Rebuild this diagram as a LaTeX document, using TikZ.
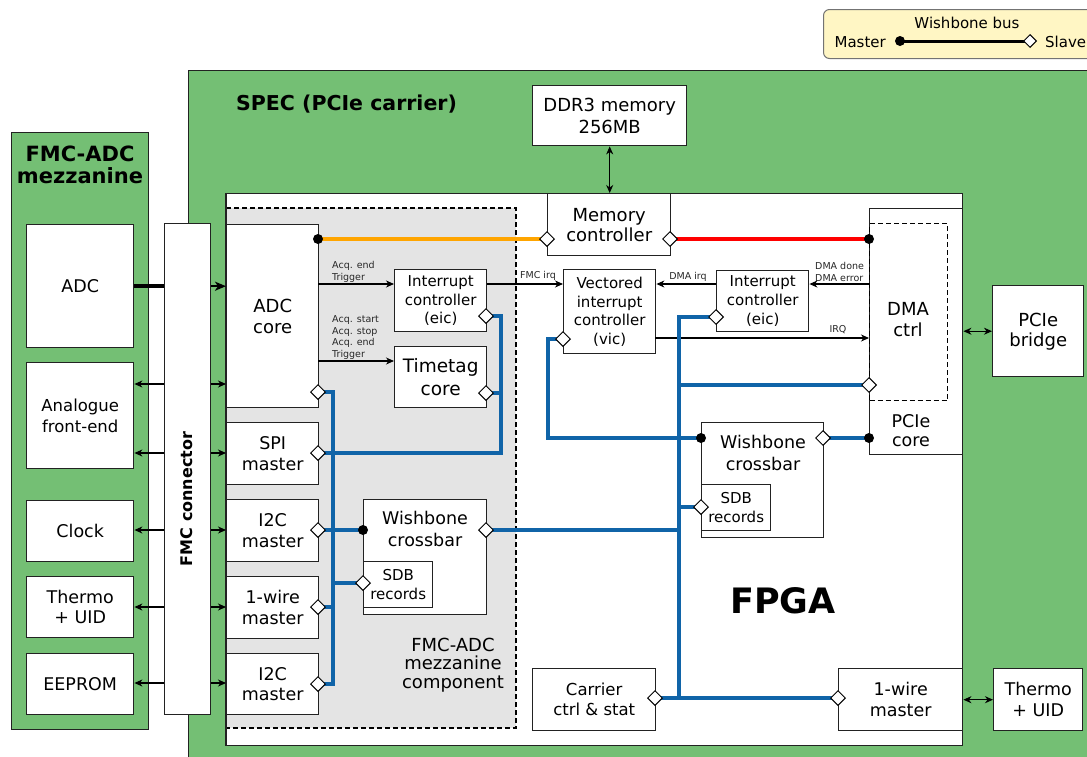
\documentclass[tikz,border=0pt]{standalone}
\usepackage{fontspec}
\setmainfont{DejaVu Sans}
\usetikzlibrary{shapes.geometric,arrows.meta,calc}

\definecolor{boardgreen}{RGB}{116,191,116}
\definecolor{busblue}{RGB}{16,100,168}
\definecolor{compgray}{RGB}{228,228,228}
\definecolor{legendyellow}{RGB}{255,246,196}
\definecolor{edgegray}{RGB}{34,34,34}
\definecolor{wborange}{RGB}{255,165,0}
\definecolor{wbred}{RGB}{255,0,0}

\newcommand\fsz[2]{\fontsize{#1}{#2}\selectfont}

\tikzset{
  board/.style={draw=edgegray, line width=1.4pt, fill=boardgreen, inner sep=0pt, anchor=north west},
  box/.style={draw=edgegray, line width=1.4pt, fill=white, inner sep=0pt, anchor=north west,
              align=center, font=\fsz{17.5}{20.5}},
  midtext/.style={font=\fsz{15}{18.7}},
  txt/.style={inner sep=0pt, align=center},
  tiny/.style={inner sep=0pt, align=left, font=\fsz{9.5}{11.8}, text=black!85},
  tip/.style={Stealth[length=8pt,width=7pt,inset=2.5pt]},
  sig/.style={line width=1.1pt, -{Stealth[length=8pt,width=7pt,inset=2.5pt]}},
  sigboth/.style={line width=1.1pt, {Stealth[length=8pt,width=7pt,inset=2.5pt]}-{Stealth[length=8pt,width=7pt,inset=2.5pt]}},
  bus/.style={line width=4.5pt, busblue},
  mport/.style={circle, fill=black, minimum size=10pt, inner sep=0pt},
  sport/.style={diamond, draw=black, line width=1pt, fill=white, minimum size=15pt, inner sep=0pt},
}

\begin{document}
\begin{tikzpicture}[x=1pt,y=-1pt]
\useasboundingbox (0,0) rectangle (1087,756);
\clip (0,0) rectangle (1087,756);

% ---------- legend ----------
\node[draw=black!55, line width=1pt, fill=legendyellow, rounded corners=6pt, anchor=north west,
      minimum width=290, minimum height=49, inner sep=0pt] (legend) at (823,9) {};
\node[txt, font=\fsz{15}{18}] (legtitle) at (967,23) {Wishbone bus};
\coordinate (legM) at (900,41);
\coordinate (legS) at (1030,41);
\draw[line width=3pt] (legM) -- (legS);
\node[mport] (legdot) at (legM) {};
\node[sport, minimum size=13pt] (legdia) at (legS) {};
\node[txt, anchor=east, font=\fsz{15}{18}] (legmaster) at (886,42) {Master};
\node[txt, anchor=west, font=\fsz{15}{18}] (legslave) at (1045,42) {Slave};

% ---------- boards ----------
\node[board, minimum width=920, minimum height=700] (spec) at (188,70) {};
\node[txt, anchor=west, font=\bfseries\fsz{20.5}{24}] (spectitle) at (236,104) {SPEC (PCIe carrier)};

\node[board, minimum width=137, minimum height=597] (mezz) at (11,132) {};
\node[txt, font=\bfseries\fsz{21}{21.5}] (mezztitle) at (80,165) {FMC-ADC\\mezzanine};

% mezzanine parts
\node[box, minimum width=107, minimum height=123] (adc) at (26,224) {ADC};
\node[box, minimum width=107, minimum height=106, font=\fsz{16.5}{21.5}] (afe) at (26,362) {Analogue\\front-end};
\node[box, minimum width=107, minimum height=61] (clk) at (26,500) {Clock};
\node[box, minimum width=107, minimum height=61] (thermoM) at (26,576) {Thermo\\+ UID};
\node[box, minimum width=107, minimum height=61] (eeprom) at (26,653) {EEPROM};

% FMC connector
\node[box, minimum width=46, minimum height=491] (conn) at (164,223) {};
\node[txt, rotate=90, font=\bfseries\fsz{16}{18}] (conntext) at (187,499) {FMC connector};

% DDR3
\node[box, minimum width=154, minimum height=60, font=\fsz{18}{22.5}] (ddr) at (532,85) {DDR3 memory\\256MB};

% ---------- FPGA ----------
\node[box, minimum width=736, minimum height=552] (fpga) at (226,193) {};
\fill[compgray] (226.7,208) rectangle (516,728);
\draw[line width=1.4pt, dash pattern=on 5pt off 3pt] (226,208) -- (516,208) -- (516,728) -- (226,728);
\draw[draw=edgegray, line width=1.4pt] (fpga.north west) -- (fpga.south west);
\node[txt, font=\bfseries\fsz{35}{40}] (fpgatext) at (783,601) {FPGA};
\node[txt, font=\fsz{18}{18.5}] (comptext) at (453,665) {FMC-ADC\\mezzanine\\component};

% FMC-ADC component blocks
\node[box, minimum width=92, minimum height=183, font=\fsz{18}{20.5}] (adccore) at (226,224) {ADC\\core};
\node[box, minimum width=92, minimum height=62] (spi) at (226,422) {SPI\\master};
\node[box, minimum width=92, minimum height=62] (i2cA) at (226,499) {I2C\\master};
\node[box, minimum width=92, minimum height=62] (owA) at (226,576) {1-wire\\master};
\node[box, minimum width=92, minimum height=61] (i2cB) at (226,653) {I2C\\master};
\node[box, minimum width=92, minimum height=62, midtext] (eicF) at (394,269) {Interrupt\\controller\\(eic)};
\node[box, minimum width=92, minimum height=61, font=\fsz{18.5}{23}] (ttag) at (394,346) {Timetag\\core};
\node[box, minimum width=123, minimum height=115] (xbarF) at (363,499) {};
\node[txt, font=\fsz{17.5}{22}] (xbarFtext) at (425,529) {Wishbone\\crossbar};
\node[box, minimum width=69, minimum height=46, font=\fsz{15}{19}] (sdbF) at (363,561) {SDB\\records};

% carrier blocks
\node[box, minimum width=123, minimum height=62, font=\fsz{18}{20}] (memctl) at (547,193) {Memory\\controller};
\node[box, minimum width=92, minimum height=84, midtext] (vic) at (563,269) {Vectored\\interrupt\\controller\\(vic)};
\node[box, minimum width=92, minimum height=61, midtext] (eicC) at (716,270) {Interrupt\\controller\\(eic)};
\node[box, minimum width=93, minimum height=246] (pcie) at (869,208) {};
\node[txt, font=\fsz{17.5}{19}] (pcietext) at (911,431) {PCIe\\core};
\node[draw=black, line width=1.2pt, dash pattern=on 5pt off 3pt, anchor=north west, inner sep=0pt,
      minimum width=78, minimum height=177] (dma) at (869,223) {};
\node[txt, font=\fsz{18}{21}] (dmatext) at (908,320) {DMA\\ctrl};
\node[box, minimum width=91, minimum height=91, font=\fsz{18}{20}] (bridge) at (992,285) {PCIe\\bridge};
\node[box, minimum width=122, minimum height=115] (xbarC) at (701,422) {};
\node[txt, font=\fsz{17.5}{22}] (xbarCtext) at (763,453) {Wishbone\\crossbar};
\node[box, minimum width=69, minimum height=46, font=\fsz{15}{19}] (sdbC) at (701,484) {SDB\\records};
\node[box, minimum width=123, minimum height=62, font=\fsz{16.5}{20}] (carrier) at (532,668) {Carrier\\ctrl \& stat};
\node[box, minimum width=124, minimum height=62] (owC) at (838,668) {1-wire\\master};
\node[box, minimum width=89, minimum height=62] (thermoC) at (993,668) {Thermo\\+ UID};

% ---------- mezzanine to carrier signals ----------
\draw[line width=4pt] (adc.east) -- (conn.west |- adc.east);
\draw[line width=2.5pt, -{Stealth[length=11pt,width=9pt,inset=3pt]}] (conn.east |- adc.east) -- (adccore.west |- adc.east);
\foreach \y in {384,453,530,607,683} {
  \draw[sig] (conn.west |- 0,\y) -- (adc.east |- 0,\y);
  \draw[sig] (conn.east |- 0,\y) -- (adccore.west |- 0,\y);
}

% ---------- interrupt and status signals ----------
\coordinate (acqA) at (318,284);
\coordinate (acqB) at (318,361);
\coordinate (irqY) at (655,338);
\draw[sig] (acqA) -- (acqA -| eicF.west);
\draw[sig] (acqB) -- (acqB -| ttag.west);
\draw[sig] (eicF.east |- acqA) -- (vic.west |- acqA);
\draw[sig] (eicC.west |- acqA) -- (vic.east |- acqA);
\draw[sig] (pcie.west |- acqA) -- (eicC.east |- acqA);
\draw[sig] (irqY) -- (irqY -| pcie.west);
\draw[sigboth] (ddr.south) -- (ddr.south |- memctl.north);
\draw[sigboth] (fpga.east |- bridge.west) -- (bridge.west);
\draw[sigboth] (owC.east) -- (thermoC.west);

\node[tiny, anchor=west] (lblA) at (332,272) {Acq. end\\Trigger};
\node[tiny, anchor=west] (lblB) at (332,337.5) {Acq. start\\Acq. stop\\Acq. end\\Trigger};
\node[tiny] (lblFMC) at (538,276) {FMC irq};
\node[tiny] (lblDMA) at (688,277) {DMA irq};
\node[tiny, anchor=west] (lblDone) at (815,272) {DMA done\\DMA error};
\node[tiny] (lblIRQ) at (838,330) {IRQ};

% ---------- Wishbone ports ----------
\coordinate (adcM) at (318,239);
\coordinate (memL) at (547,239);
\coordinate (memR) at (670,239);
\coordinate (dmaM) at (869,239);
\coordinate (adcS) at (318,392);
\coordinate (spiS) at (318,453);
\coordinate (i2cAS) at (318,530);
\coordinate (owAS) at (318,607);
\coordinate (i2cBS) at (318,684);
\coordinate (eicFS) at (486,316);
\coordinate (ttagS) at (486,393);
\coordinate (xbarFM) at (363,530);
\coordinate (sdbFS) at (363,583);
\coordinate (xbarFS) at (486,530);
\coordinate (vicS) at (563,339);
\coordinate (eicCS) at (716,317);
\coordinate (dmaS) at (869,385);
\coordinate (pcieM) at (869,438);
\coordinate (xbarCM) at (701,438);
\coordinate (xbarCS) at (823,438);
\coordinate (sdbCS) at (701,507);
\coordinate (carS) at (655,698);
\coordinate (owCS) at (838,698);
\coordinate (trunkTop) at (679,317);
\coordinate (trunkBot) at (679,698);

% DMA memory paths
\draw[line width=4pt, wborange] (adcM) -- (memL);
\draw[line width=4pt, wbred] (memR) -- (dmaM);

% mezzanine component bus
\draw[bus] (adcS) -- ++(15,0) |- (i2cBS);
\draw[bus] (spiS) -| ($(eicFS)+(15,0)$) -- (eicFS);
\draw[bus] (ttagS) -- ++(15,0);
\draw[bus] (i2cAS) -- (xbarFM);
\draw[bus] (owAS) -- ++(15,0);
\draw[bus] (sdbFS) -- ++(-30,0);

% carrier bus
\draw[bus] (eicCS) -- (trunkTop) -- (trunkBot);
\draw[bus] (xbarFS) -- (xbarFS -| trunkTop);
\draw[bus] (dmaS) -- (dmaS -| trunkTop);
\draw[bus] (sdbCS) -- (sdbCS -| trunkTop);
\draw[bus] (carS) -- (owCS);
\draw[bus] (vicS) -- ++(-15,0) |- (xbarCM);
\draw[bus] (xbarCS) -- (pcieM);

% port markers: dots for masters, diamonds for slaves
\foreach \p in {adcM, dmaM, xbarFM, pcieM, xbarCM}
  \node[mport] at (\p) {};
\foreach \p in {memL, memR, adcS, spiS, i2cAS, owAS, i2cBS, eicFS, ttagS, sdbFS, xbarFS,
                vicS, eicCS, dmaS, xbarCS, sdbCS, carS, owCS}
  \node[sport] at (\p) {};

\end{tikzpicture}
\end{document}
